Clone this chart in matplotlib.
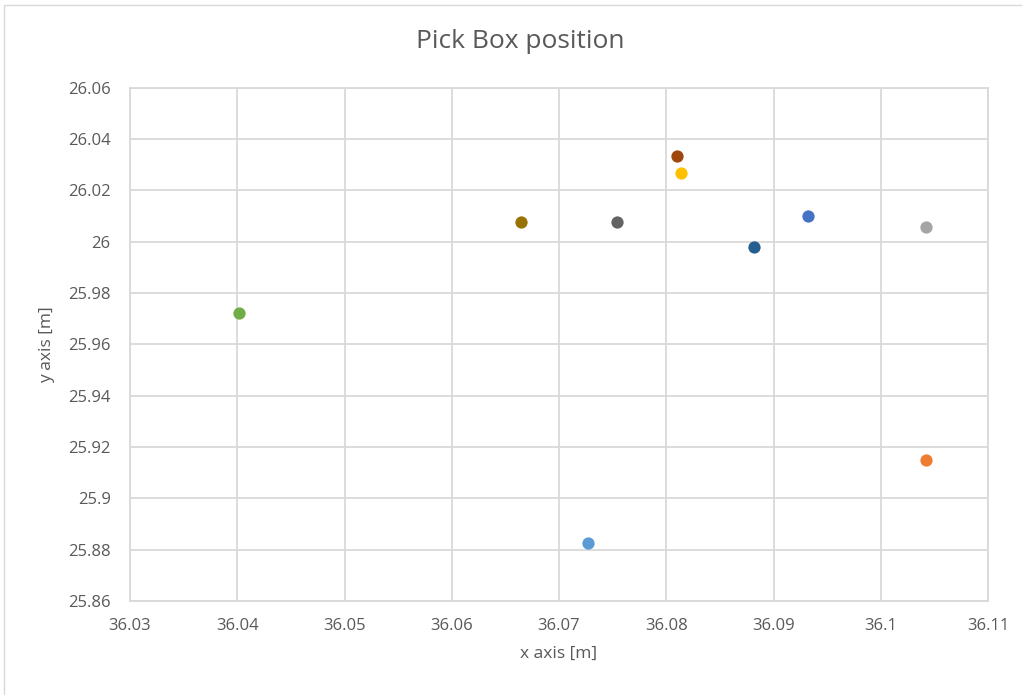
import matplotlib
matplotlib.use("Agg")
import matplotlib.pyplot as plt
from matplotlib.ticker import FuncFormatter, MultipleLocator
from matplotlib.patches import Rectangle

# Pick box positions, one point per series
x_pos = [36.0932, 36.1042, 36.1042, 36.0814, 36.0727, 36.0402,
         36.0882, 36.0810, 36.0754, 36.0665]
y_pos = [26.0099, 25.9149, 26.0056, 26.0268, 25.8824, 25.9720,
         25.9977, 26.0334, 26.0078, 26.0078]
colors = ["#4472C4", "#ED7D31", "#A5A5A5", "#FFC000", "#5B9BD5", "#70AD47",
          "#255E91", "#9E480E", "#636363", "#997300"]

title = "Pick Box position"
x_label = "x axis [m]"
y_label = "y axis [m]"
x_range = (36.03, 36.11)
y_range = (25.86, 26.06)

plt.rcParams["font.family"] = ["Open Sans", "DejaVu Sans"]
text_col = "#595959"
grid_col = "#D9D9D9"

fig = plt.figure(figsize=(10.22, 6.95), dpi=100)
ax = fig.add_axes([130 / 1022, 1 - 601 / 695, 858 / 1022, 513.5 / 695])

for xv, yv, c in zip(x_pos, y_pos, colors):
    ax.scatter(xv, yv, s=78, color=c, linewidths=0, zorder=3)

ax.set_xlim(*x_range)
ax.set_ylim(*y_range)
ax.xaxis.set_major_locator(MultipleLocator(0.01))
ax.yaxis.set_major_locator(MultipleLocator(0.02))

fmt = FuncFormatter(lambda v, p: format(round(v, 4), "g"))
ax.xaxis.set_major_formatter(fmt)
ax.yaxis.set_major_formatter(fmt)

ax.grid(True, color=grid_col, linewidth=1.3, zorder=0)
for s in ax.spines.values():
    s.set_color(grid_col)
    s.set_linewidth(1.3)
ax.tick_params(length=0, labelsize=12, labelcolor=text_col, pad=12)
ax.tick_params(axis="y", pad=14)

ax.set_xlabel(x_label, fontsize=12.5, color=text_col, labelpad=9)
ax.set_ylabel(y_label, fontsize=12.5, color=text_col, labelpad=9)
fig.text(520 / 1022, 1 - 42 / 695, title, fontsize=19, color=text_col,
         ha="center", va="center")

# light chart-area border (right and bottom edges fall outside the image)
fig.patches.append(Rectangle((4 / 1022, -0.05), 1.2, 1 - 5 / 695 + 0.05,
                             transform=fig.transFigure, fill=False,
                             edgecolor=grid_col, linewidth=1.0))

fig.savefig("out.png", dpi=100, facecolor="white")
